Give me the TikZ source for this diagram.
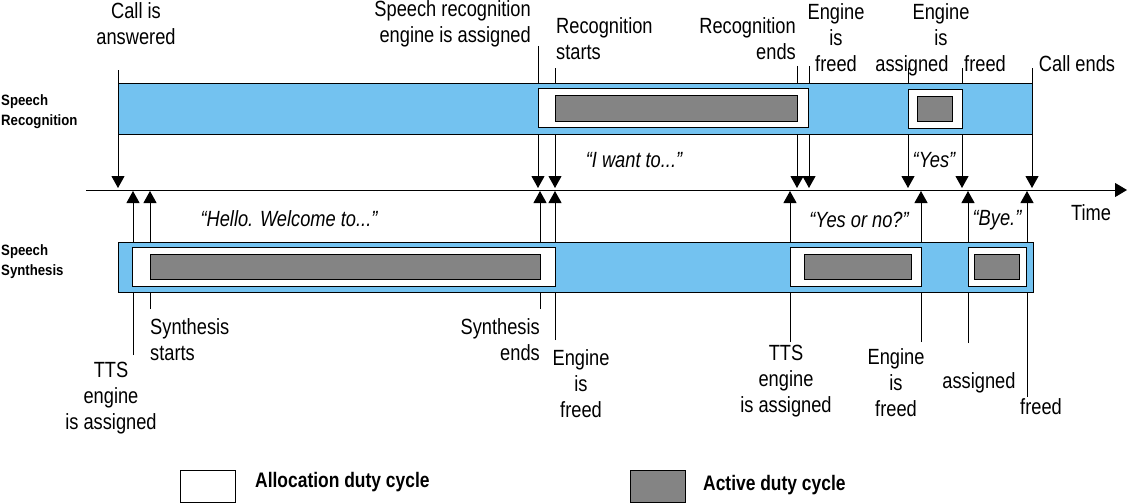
\documentclass[tikz,border=0pt]{standalone}
\usepackage{fontspec}
\setmainfont{Liberation Sans}[FakeStretch=0.83]
\newfontfamily\rowfont{Liberation Sans}[FakeStretch=0.88]
\usetikzlibrary{arrows.meta, math}
\definecolor{bandblue}{RGB}{115,194,240}
\definecolor{activegray}{RGB}{132,132,132}

\tikzset{
  band/.style={draw=black, fill=bandblue, line width=1pt},
  alloc/.style={draw=black, fill=white, line width=1pt},
  active/.style={draw=black, fill=activegray, line width=1pt},
  event/.style={line width=1pt, -{Triangle[width=13pt,length=12pt]}},
  timeaxis/.style={line width=1pt, -{Triangle[width=14pt,length=12pt]}},
  lbl/.style={font=\fontsize{22}{26}\selectfont, inner sep=0pt, align=center},
  quote/.style={font=\fontsize{22}{26}\selectfont\itshape, inner sep=0pt},
  rowlbl/.style={font=\rowfont\bfseries\fontsize{15}{20}\selectfont, inner sep=0pt, align=left, anchor=north west},
  keytext/.style={font=\bfseries\fontsize{21}{24}\selectfont, inner sep=0pt, anchor=west},
}

\begin{document}
\begin{tikzpicture}[x=1pt, y=-1pt]
\tikzmath{
\axy=190;
\rectop=83;
\recbot=134;
\syntop=242;
\synbot=292;
}
\useasboundingbox (0,0) rectangle (1129,503);

% time axis
\coordinate (tstart) at (86,\axy);
\coordinate (tend) at (1127,\axy);
\draw[timeaxis] (tstart) -- (tend);
\node[lbl] (time) at (1091,213) {Time};

% recognition events, pointing down to the axis
\foreach \n/\x/\y in {ans/118/70, srasg/538/46, rst/555/68, rend/797/66, rfree/809/66, yasg/908/68, yfree/962/68, cend/1032/68}{
  \coordinate (\n) at (\x,\y);
  \coordinate (\n-t) at (\x,\axy-2);
  \draw[event] (\n) -- (\n-t);
}

% synthesis events, pointing up to the axis
\foreach \n/\x/\y in {ttsa/133/355, synst/150/309, synen/540/309, sfra/555/340, ttsb/790/342, sfrb/921/342, byeas/968/343, byefr/1027/397}{
  \coordinate (\n) at (\x,\y);
  \coordinate (\n-t) at (\x,\axy+1);
  \draw[event] (\n) -- (\n-t);
}

% speech recognition row
\draw[band] (118,\rectop) rectangle (1032,\recbot);
\draw[alloc] (538,88) rectangle (808,127);
\draw[active] (555,95) rectangle (797,121);
\draw[alloc] (908,89) rectangle (962,128);
\draw[active] (917,96) rectangle (952,121);

% speech synthesis row
\draw[band] (118,\syntop) rectangle (1033,\synbot);
\draw[alloc] (132,247) rectangle (555,286);
\draw[active] (150,254) rectangle (540,279);
\draw[alloc] (790,247) rectangle (921,286);
\draw[active] (804,254) rectangle (911,279);
\draw[alloc] (968,247) rectangle (1026,286);
\draw[active] (974,254) rectangle (1019,279);

\node[rowlbl] (recrow) at (1,94) {Speech\\Recognition};
\node[rowlbl] (synrow) at (1,244) {Speech\\Synthesis};

% labels above
\node[lbl, anchor=north] (answered) at (136,2) {Call is\\answered};
\node[lbl, anchor=north east, align=right] (srassigned) at (531,0) {Speech recognition\\engine is assigned};
\node[lbl, anchor=north west, align=left] (rstarts) at (556,17) {Recognition\\starts};
\node[lbl, anchor=north east, align=right] (rends) at (796,17) {Recognition\\ends};
\node[lbl, anchor=north] (rfreed) at (836,3) {Engine\\is\\freed};
\node[lbl, anchor=north] (yengine) at (941,3) {Engine\\is};
\node[lbl, anchor=north] (yassigned) at (912,55) {assigned};
\node[lbl, anchor=north] (yfreed) at (985,55) {freed};
\node[lbl, anchor=north] (callends) at (1077,55) {Call ends};

% labels below
\node[lbl, anchor=north] (ttsa-l) at (111,362) {TTS\\engine\\is assigned};
\node[lbl, anchor=north west, align=left] (synst-l) at (150,318) {Synthesis\\starts};
\node[lbl, anchor=north east, align=right] (synen-l) at (540,318) {Synthesis\\ends};
\node[lbl, anchor=north] (sfra-l) at (581,349) {Engine\\is\\freed};
\node[lbl, anchor=north] (ttsb-l) at (786,345) {TTS\\engine\\is assigned};
\node[lbl, anchor=north] (sfrb-l) at (896,348) {Engine\\is\\freed};
\node[lbl, anchor=north] (byeas-l) at (979,372) {assigned};
\node[lbl, anchor=north] (byefr-l) at (1041,398) {freed};

% spoken text
\node[quote] (hello) at (289,219) {``Hello. Welcome to...''};
\node[quote] (iwant) at (634,160) {``I want to...''};
\node[quote] (yes) at (934,160) {``Yes''};
\node[quote] (yesno) at (859,220) {``Yes or no?''};
\node[quote] (bye) at (997,220) {``Bye.''};

% legend
\node[alloc, minimum width=55pt, minimum height=32pt, inner sep=0pt, anchor=north west] (allockey) at (180,470) {};
\node[keytext] (alloctext) at (255,482) {Allocation duty cycle};
\node[active, minimum width=55pt, minimum height=32pt, inner sep=0pt, anchor=north west] (activekey) at (630,470) {};
\node[keytext] (activetext) at (703,485) {Active duty cycle};
\end{tikzpicture}
\end{document}
